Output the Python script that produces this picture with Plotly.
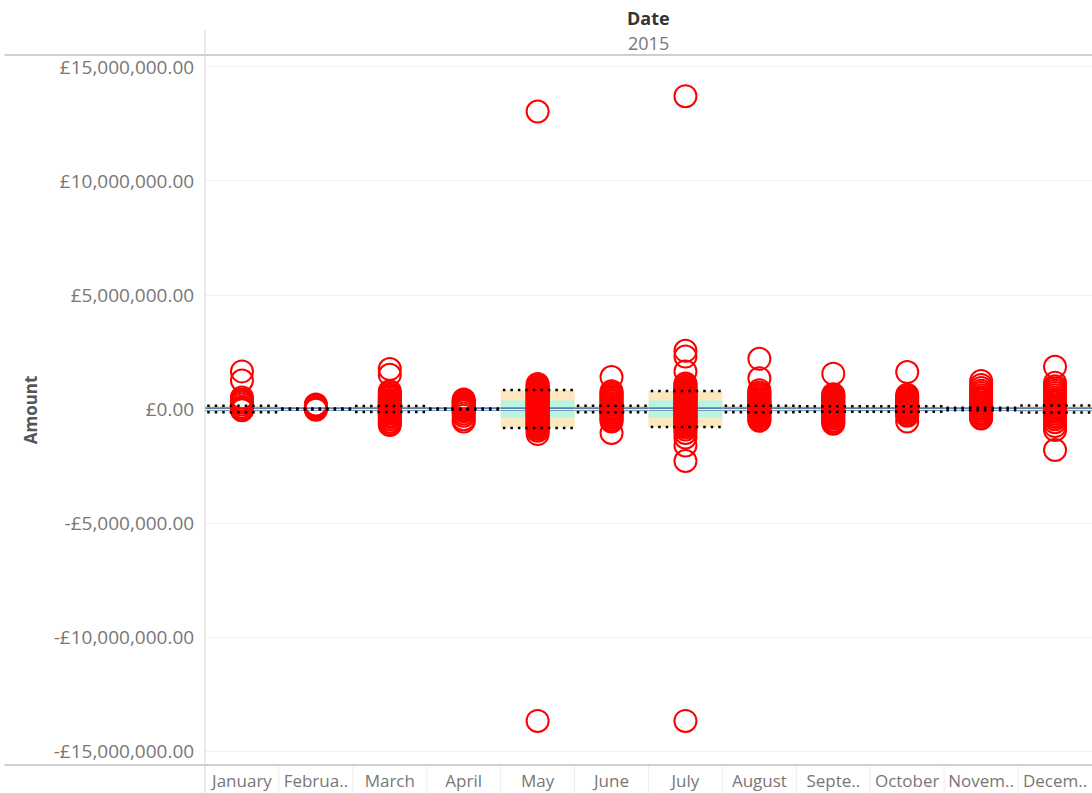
import plotly.graph_objects as go

# ---------------- data (values in millions of £) ----------------
month_labels = ["January", "Februa..", "March", "April", "May", "June",
                "July", "August", "Septe..", "October", "Novem..", "Decem.."]

jan = [1.65, 1.25, 0.5, 0.42, 0.35, 0.28, 0.2, 0.1, 0.05, 0.0, -0.03, -0.06]
feb = [0.2, 0.15, 0.1, 0.06, 0.03, 0.0, -0.03]
mar = [1.75, 1.5, 0.78, 0.7, 0.62, 0.55, 0.48, 0.4, 0.35, 0.3, 0.25, 0.2, 0.15, 0.1,
       0.05, 0.0, -0.05, -0.1, -0.15, -0.2, -0.28, -0.35, -0.45, -0.55, -0.62, -0.7]
apr = [0.42, 0.35, 0.3, 0.25, 0.2, 0.15, 0.1, 0.05, 0.0, -0.05, -0.1, -0.2, -0.3,
       -0.45, -0.55]
may = [13.05, 1.1, 1.02, 0.95, 0.9, 0.85, 0.8, 0.75, 0.7, 0.65, 0.6, 0.55, 0.5, 0.45,
       0.4, 0.35, 0.3, 0.25, 0.2, 0.15, 0.1, 0.05, 0.0, -0.05, -0.1, -0.15, -0.2, -0.25,
       -0.3, -0.35, -0.4, -0.45, -0.5, -0.55, -0.6, -0.65, -0.7, -0.75, -0.8, -0.88,
       -0.95, -1.1, -13.68]
jun = [1.4, 0.78, 0.7, 0.62, 0.55, 0.48, 0.4, 0.33, 0.25, 0.18, 0.1, 0.05, 0.0, -0.05,
       -0.1, -0.18, -0.25, -0.32, -0.4, -0.48, -0.55, -1.05]
jul = [13.72, 2.55, 2.3, 1.65, 1.12, 1.05, 0.98, 0.9, 0.85, 0.8, 0.75, 0.7, 0.65, 0.6,
       0.55, 0.5, 0.45, 0.4, 0.35, 0.3, 0.25, 0.2, 0.15, 0.1, 0.05, 0.0, -0.05, -0.1,
       -0.15, -0.2, -0.25, -0.3, -0.35, -0.4, -0.45, -0.5, -0.55, -0.6, -0.65, -0.72,
       -0.8, -0.9, -1.05, -1.25, -1.6, -2.28, -13.68]
aug = [2.2, 1.35, 0.82, 0.72, 0.65, 0.58, 0.5, 0.43, 0.36, 0.3, 0.24, 0.18, 0.12, 0.06,
       0.0, -0.06, -0.12, -0.18, -0.25, -0.32, -0.4, -0.47, -0.52]
sep = [1.55, 0.65, 0.6, 0.55, 0.5, 0.44, 0.38, 0.32, 0.26, 0.2, 0.14, 0.08, 0.02, -0.04,
       -0.1, -0.16, -0.22, -0.28, -0.35, -0.42, -0.5, -0.58, -0.65]
oct_ = [1.62, 0.62, 0.55, 0.48, 0.42, 0.36, 0.3, 0.24, 0.18, 0.12, 0.06, 0.0, -0.06,
        -0.12, -0.18, -0.25, -0.3, -0.55]
nov = [1.23, 1.05, 0.92, 0.8, 0.7, 0.6, 0.52, 0.45, 0.38, 0.3, 0.22, 0.15, 0.08, 0.0,
       -0.08, -0.15, -0.22, -0.3, -0.37, -0.42]
dec = [1.85, 1.15, 1.0, 0.9, 0.8, 0.7, 0.6, 0.5, 0.42, 0.35, 0.28, 0.2, 0.12, 0.05, 0.0,
       -0.05, -0.12, -0.2, -0.28, -0.35, -0.45, -0.58, -0.75, -0.92, -1.8]

monthly_amounts = [jan, feb, mar, apr, may, jun, jul, aug, sep, oct_, nov, dec]

# reference distribution per month (millions): centre line, outer band, inner band
band_centre = [0.0] * 12
band_outer = [0.14, 0.02, 0.13, 0.02, 0.83, 0.14, 0.79, 0.14, 0.12, 0.12, 0.05, 0.15]
band_inner = [0.07, 0.01, 0.06, 0.01, 0.37, 0.07, 0.37, 0.07, 0.06, 0.06, 0.03, 0.07]

y_tick_vals = [15, 10, 5, 0, -5, -10, -15]
y_tick_text = ["£15,000,000.00", "£10,000,000.00", "£5,000,000.00", "£0.00",
               "-£5,000,000.00", "-£10,000,000.00", "-£15,000,000.00"]

M = 1e6
FONT = "Open Sans"

# ---------------- figure ----------------
xs, ys = [], []
for i, vals in enumerate(monthly_amounts):
    xs += [i] * len(vals)
    ys += [v * M for v in vals]

fig = go.Figure()
fig.add_trace(go.Scatter(
    x=xs, y=ys, mode="markers",
    marker=dict(symbol="circle-open", size=22, color="#ff0000",
                line=dict(width=2, color="#ff0000")),
    hoverinfo="y", showlegend=False))

shapes = []
for i in range(12):
    c = band_centre[i] * M
    o = band_outer[i] * M
    n = band_inner[i] * M
    shapes.append(dict(type="rect", xref="x", yref="y", x0=i - 0.5, x1=i + 0.5,
                       y0=c - o, y1=c + o, fillcolor="#fde7bf", line=dict(width=0),
                       layer="below"))
    shapes.append(dict(type="rect", xref="x", yref="y", x0=i - 0.5, x1=i + 0.5,
                       y0=c - n, y1=c + n, fillcolor="#b6f5df", line=dict(width=0),
                       layer="below"))
    shapes.append(dict(type="line", xref="x", yref="y", x0=i - 0.5, x1=i + 0.5,
                       y0=c, y1=c, line=dict(color="#5b7fb3", width=3.5),
                       layer="below"))
    for yy in (c - o, c + o):
        shapes.append(dict(type="line", xref="x", yref="y", x0=i - 0.47, x1=i + 0.5,
                           y0=yy, y1=yy,
                           line=dict(color="#000000", width=2.5, dash="2.5px,5px"),
                           layer="above"))
    # faint column separators in the label strip
    if i > 0:
        shapes.append(dict(type="line", xref="x", yref="paper", x0=i - 0.5, x1=i - 0.5,
                           y0=0, y1=-0.04, line=dict(color="#eeeeee", width=1)))

# frame lines (Tableau header / axis separators)
shapes += [
    dict(type="line", xref="paper", yref="paper", x0=-0.226, x1=1, y0=1, y1=1,
         line=dict(color="#cfcfcf", width=2)),
    dict(type="line", xref="paper", yref="paper", x0=-0.226, x1=1, y0=0, y1=0,
         line=dict(color="#cfcfcf", width=2)),
    dict(type="line", xref="paper", yref="paper", x0=0, x1=0, y0=-0.04, y1=1.035,
         line=dict(color="#d4d4d4", width=1)),
]

fig.update_layout(
    width=1092, height=793,
    margin=dict(l=205, r=0, t=55, b=28),
    paper_bgcolor="white", plot_bgcolor="white",
    font=dict(family=FONT, color="#777777", size=19),
    shapes=shapes,
    xaxis=dict(range=[-0.5, 11.5], tickmode="array", tickvals=list(range(12)),
               ticktext=month_labels, showgrid=False, zeroline=False,
               showline=False, ticks="outside", ticklen=1,
               tickcolor="rgba(0,0,0,0)", automargin=False,
               tickfont=dict(size=17, color="#777777")),
    yaxis=dict(range=[-15.614 * M, 15.526 * M], tickmode="array",
               tickvals=[v * M for v in y_tick_vals], ticktext=y_tick_text,
               showgrid=True, gridcolor="#f0f0f0", gridwidth=1, zeroline=False,
               showline=False, ticks="outside", ticklen=6, automargin=False,
               tickcolor="rgba(0,0,0,0)", tickfont=dict(size=19, color="#777777")),
    annotations=[
        dict(text="<b>Date</b>", xref="paper", yref="paper", x=0.5, y=1.052,
             showarrow=False, font=dict(size=18, color="#333333", family=FONT),
             xanchor="center", yanchor="middle"),
        dict(text="2015", xref="paper", yref="paper", x=0.5, y=1.017,
             showarrow=False, font=dict(size=18, color="#777777", family=FONT),
             xanchor="center", yanchor="middle"),
        dict(text="<b>Amount</b>", xref="paper", yref="paper", x=-0.197, y=0.5,
             showarrow=False, textangle=-90,
             font=dict(size=17, color="#555555", family=FONT),
             xanchor="center", yanchor="middle"),
    ],
)

fig.write_html("out.html",
               config={"displayModeBar": False},
               post_script="document.body.style.margin='0';"
                           "document.body.style.overflow='hidden';")
